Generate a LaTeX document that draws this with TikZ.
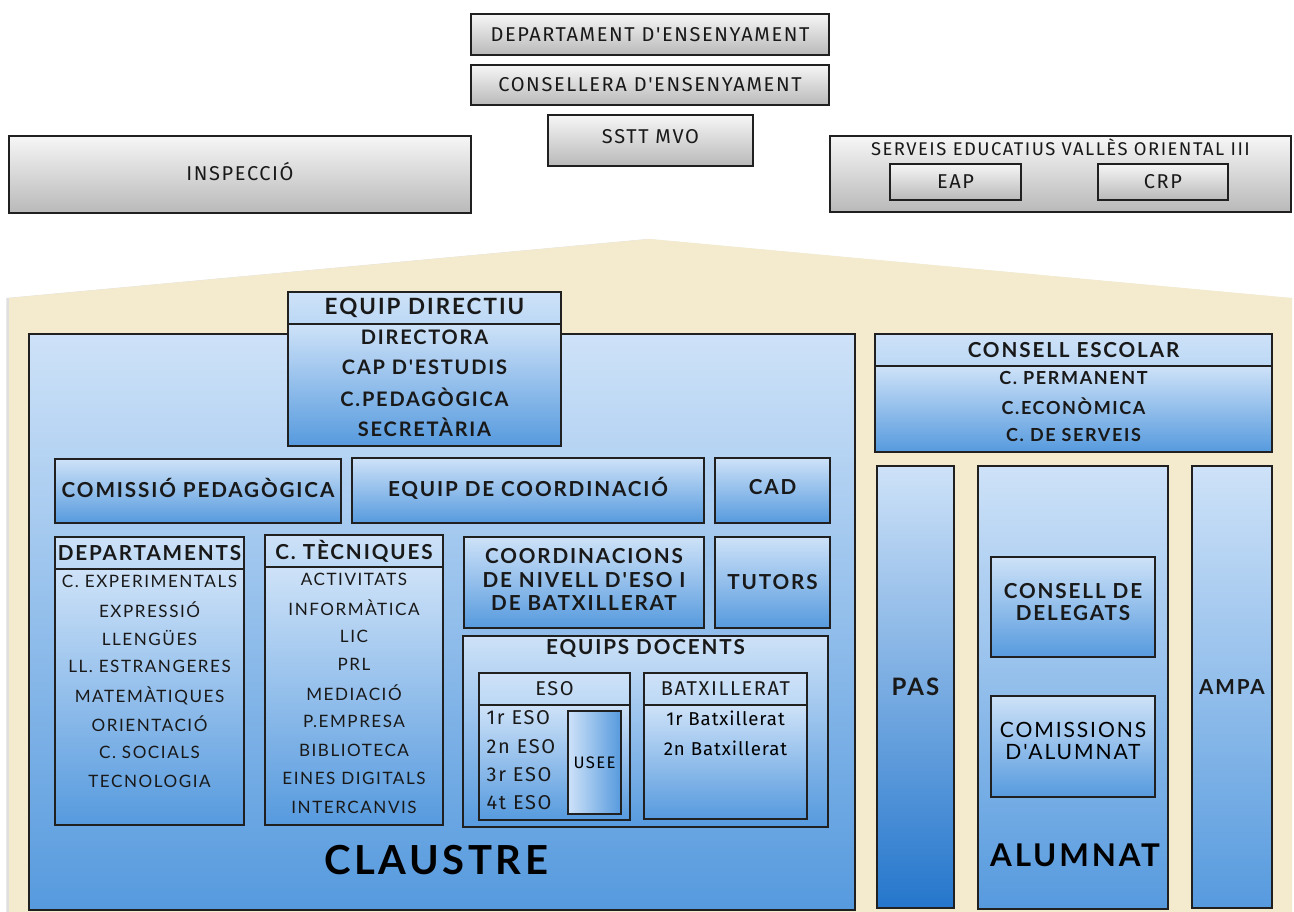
\documentclass[tikz,border=0pt]{standalone}
\usepackage{fontspec}
\setmainfont{Lato}
\newfontfamily\topfont{Fira Sans}[LetterSpace=8]
\newfontfamily\smallfont{Fira Sans}[LetterSpace=5]
\newfontfamily\boxfont{Lato}[LetterSpace=9]
\usetikzlibrary{shadows}

\definecolor{gTop}{RGB}{246,246,246}
\definecolor{gBot}{RGB}{185,185,185}
\definecolor{bTop}{RGB}{206,226,248}
\definecolor{bBot}{RGB}{86,154,222}
\definecolor{bDeep}{RGB}{36,118,204}
\definecolor{bHead}{RGB}{188,216,245}
\definecolor{sand}{RGB}{244,235,207}
\definecolor{edge}{RGB}{32,32,32}

\tikzset{
  sz/.style 2 args={minimum width=#1*0.75pt, minimum height=#2*0.75pt},
  shadebox/.style={draw=edge, line width=0.9pt, inner sep=0pt, outer sep=0pt,
    drop shadow={shadow xshift=1pt, shadow yshift=-1pt, opacity=0.35}},
  gbox/.style={shadebox, top color=gTop, bottom color=gBot},
  bbox/.style={shadebox, top color=bTop, bottom color=bBot},
  hbox/.style={shadebox, top color=bTop, bottom color=bHead},
  toptxt/.style={font=\topfont\fontsize{15}{17}\selectfont, text=black!90},
  lbl/.style={font=\boxfont\bfseries\fontsize{15.5}{17}\selectfont, text=black!90},
  bitm/.style={font=\boxfont\bfseries\fontsize{13.5}{15}\selectfont, text=black!90},
  itm/.style={font=\boxfont\fontsize{12.8}{14}\selectfont, text=black!90},
}

\begin{document}
\begin{tikzpicture}[x=0.75pt,y=-0.75pt]
\useasboundingbox (0,0) rectangle (1294,912);

% administration above the school
\node[gbox, toptxt, sz={358}{41}] (dept) at (650,34.5) {DEPARTAMENT D'ENSENYAMENT};
\node[gbox, toptxt, sz={358}{40}] (consellera) at (650,85) {CONSELLERA D'ENSENYAMENT};
\node[gbox, toptxt, sz={205}{51}, text depth=6pt] (sstt) at (650.5,140.5) {SSTT MVO};
\node[gbox, toptxt, sz={462}{77}, text depth=5pt] (insp) at (240,174.5) {INSPECCIÓ};
\node[gbox, sz={461}{76}] (serveis) at (1060.5,174) {};
\node[toptxt, font=\topfont\fontsize{13.8}{15}\selectfont] (serveis-t) at (1060.5,147) {SERVEIS EDUCATIUS VALLÈS ORIENTAL III};
\node[gbox, toptxt, sz={131}{36}] (eap) at (955.5,182) {EAP};
\node[gbox, toptxt, sz={130}{36}] (crp) at (1163,182) {CRP};

% the school
\path[fill=sand, drop shadow={shadow xshift=-2pt, shadow yshift=0pt, opacity=0.25}]
  (9,298) -- (650,239) -- (1292,298) -- (1292,912) -- (9,912) -- cycle;

% claustre
\node[bbox, sz={826}{576}] (claustre) at (442,622) {};
\node[font=\boxfont\bfseries\fontsize{30}{32}\selectfont] (claustre-t) at (436,860) {CLAUSTRE};

\node[hbox, lbl, font=\boxfont\bfseries\fontsize{16.8}{18}\selectfont, sz={273}{32}] (ed-h) at (424.5,308) {EQUIP DIRECTIU};
\node[bbox, sz={273}{122}, anchor=north] (ed) at (ed-h.south) {};
\foreach \t [count=\i] in {DIRECTORA, CAP D'ESTUDIS, C.PEDAGÒGICA, SECRETÀRIA}
  \node[bitm, font=\boxfont\bfseries\fontsize{15}{16}\selectfont] (ed-\i) at (424.5,307+30*\i) {\t};

\node[bbox, lbl, sz={286}{64}, text depth=5pt] (cp) at (198,491) {COMISSIÓ PEDAGÒGICA};
\node[bbox, lbl, sz={352}{65}, text depth=5pt] (ec) at (528,490.5) {EQUIP DE COORDINACIÓ};
\node[bbox, lbl, sz={115}{65}, text depth=5pt] (cad) at (772.5,490.5) {CAD};

\node[hbox, lbl, sz={189}{32}] (dep-h) at (149.5,553) {DEPARTAMENTS};
\node[bbox, sz={189}{256}, anchor=north] (dep) at (dep-h.south) {};
\foreach \t [count=\i] in {C. EXPERIMENTALS, EXPRESSIÓ, LLENGÜES, LL. ESTRANGERES,
    MATEMÀTIQUES, ORIENTACIÓ, C. SOCIALS, TECNOLOGIA}
  \node[itm] (dep-\i) at (149.5,552.4+28.6*\i) {\t};

\node[hbox, lbl, sz={178}{32}] (ct-h) at (354,551) {C. TÈCNIQUES};
\node[bbox, sz={178}{258}, anchor=north] (ct) at (ct-h.south) {};
\foreach \t [count=\i] in {ACTIVITATS, INFORMÀTICA, LIC, PRL, MEDIACIÓ, P.EMPRESA,
    BIBLIOTECA, EINES DIGITALS, INTERCANVIS}
  \node[itm] (ct-\i) at (354,550.5+28.5*\i) {\t};

\node[bbox, lbl, sz={240}{91}, align=center, text depth=4pt,
  font=\boxfont\bfseries\fontsize{15.5}{17.6}\selectfont] (cn) at (584,582.5)
  {COORDINACIONS\\ DE NIVELL D'ESO I\\ DE BATXILLERAT};
\node[bbox, lbl, sz={115}{91}] (tutors) at (772.5,582.5) {TUTORS};

\node[bbox, sz={365}{191}] (edoc) at (645.5,731.5) {};
\node[lbl] (edoc-t) at (645.5,648) {EQUIPS DOCENTS};

\node[hbox, toptxt, sz={151}{32}] (eso-h) at (554.5,689) {ESO};
\node[bbox, sz={151}{115}, anchor=north] (eso) at (eso-h.south) {};
\foreach \t [count=\i] in {1r ESO, 2n ESO, 3r ESO, 4t ESO}
  \node[toptxt, anchor=west] (eso-\i) at (482,689.7+28.3*\i) {\t};
\node[shadebox, left color=bTop, right color=bBot, sz={53}{103},
  font=\topfont\fontsize{12.5}{14}\selectfont] (usee) at (594.5,762.5) {USEE};

\node[hbox, toptxt, sz={163}{32}] (bat-h) at (725.5,689) {BATXILLERAT};
\node[bbox, sz={163}{114}, anchor=north] (bat) at (bat-h.south) {};
\foreach \t [count=\i] in {1r Batxillerat, 2n Batxillerat}
  \node[font=\smallfont\fontsize{14}{16}\selectfont] (bat-\i) at (725.5,688+30*\i) {\t};

% consell escolar
\node[hbox, lbl, sz={397}{32}] (ce-h) at (1073.5,350) {CONSELL ESCOLAR};
\node[bbox, sz={397}{86}, anchor=north] (ce) at (ce-h.south) {};
\foreach \t [count=\i] in {C. PERMANENT, C.ECONÒMICA, C. DE SERVEIS}
  \node[bitm] (ce-\i) at (1073.5,349.5+28.5*\i) {\t};

% pas, alumnat, ampa
\node[shadebox, top color=bTop, bottom color=bDeep, lbl,
  font=\boxfont\bfseries\fontsize{18}{20}\selectfont, sz={77}{442}] (pas) at (915.5,687) {PAS};
\node[bbox, sz={190}{443}] (alumnat) at (1073,687.5) {};
\node[font=\boxfont\bfseries\fontsize{23.5}{25}\selectfont] (alumnat-t) at (1075,855) {ALUMNAT};
\node[bbox, lbl, sz={80}{442}] (ampa) at (1232,687) {AMPA};

\node[bbox, lbl, sz={164}{100}, align=center, text depth=8pt,
  font=\boxfont\bfseries\fontsize{15.5}{16.5}\selectfont] (delegats) at (1073,607)
  {CONSELL DE\\ DELEGATS};
\node[bbox, sz={164}{101}, align=center, text depth=8pt,
  font=\boxfont\fontsize{15.8}{16.5}\selectfont] (comissions) at (1073,746.5)
  {COMISSIONS\\ D'ALUMNAT};
\end{tikzpicture}
\end{document}
